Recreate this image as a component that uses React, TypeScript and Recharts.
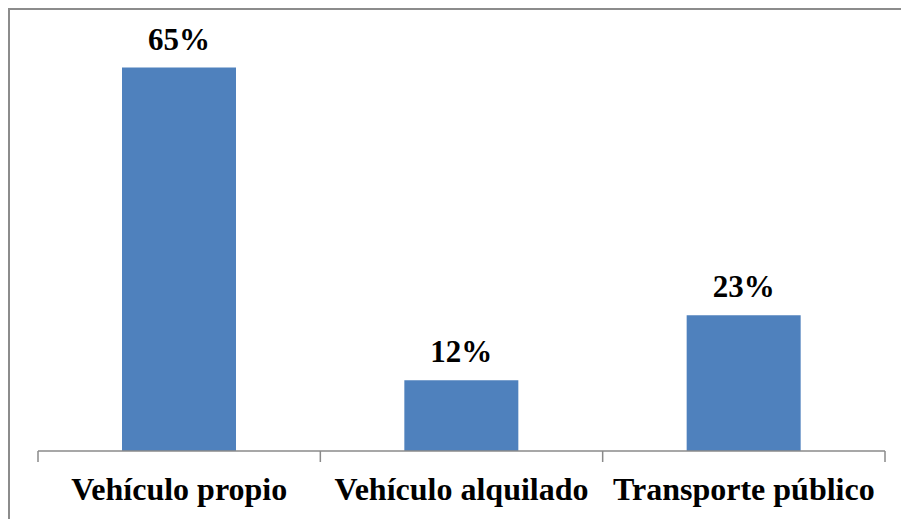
import React from 'react';
import { BarChart, Bar, XAxis, YAxis, LabelList } from 'recharts';

const categories = ['Vehículo propio', 'Vehículo alquilado', 'Transporte público'];
const shares = [65, 12, 23];

const data = categories.map((name, i) => ({ name, value: shares[i] }));

const AXIS_GRAY = '#8a8a8a';
const FONT = 'Liberation Serif, Tinos, serif';

// tick marks sit between categories, like the original spreadsheet chart
const BoundaryTick = (props: any) => {
    const { x, y, payload, index } = props;
    const half = payload && payload.offset ? payload.offset : 141;
    const last = index === categories.length - 1;
    return (
        <g>
            <line x1={x - half} y1={y} x2={x - half} y2={y + 11} stroke={AXIS_GRAY} strokeWidth={1.5} />
            {last && <line x1={x + half} y1={y} x2={x + half} y2={y + 11} stroke={AXIS_GRAY} strokeWidth={1.5} />}
            <text
                x={x}
                y={y + 49}
                textAnchor="middle"
                style={{ fontFamily: FONT, fontWeight: 'bold', fontSize: 32 }}
                fill="#000"
            >
                {payload.value}
            </text>
        </g>
    );
};

const App: React.FC = () => {
    return (
        <>
            <style>{'html,body{margin:0;padding:0;overflow:hidden;background:#fff}'}</style>
            <div
                style={{
                    position: 'absolute',
                    left: 8,
                    top: 8,
                    width: 893,
                    height: 511,
                    boxSizing: 'border-box',
                    borderTop: '2px solid #8c8c8c',
                    borderLeft: '2px solid #8c8c8c',
                    background: '#fff',
                    overflow: 'hidden',
                }}
            >
                <BarChart
                    width={891}
                    height={509}
                    data={data}
                    margin={{ top: 28, right: 16, bottom: 8, left: 28 }}
                    barSize={114}
                >
                    <YAxis hide domain={[0, 70]} />
                    <XAxis
                        dataKey="name"
                        height={60}
                        tickLine={false}
                        tickSize={0}
                        tickMargin={0}
                        axisLine={{ stroke: AXIS_GRAY, strokeWidth: 1.5 }}
                        tick={<BoundaryTick />}
                        interval={0}
                    />
                    <Bar dataKey="value" fill="#4F81BD" isAnimationActive={false}>
                        <LabelList
                            dataKey="value"
                            position="top"
                            offset={18}
                            formatter={(v: any) => `${v}%`}
                            style={{ fontFamily: FONT, fontWeight: 'bold', fontSize: 31, fill: '#000' }}
                        />
                    </Bar>
                </BarChart>
            </div>
        </>
    );
};

export default App;
